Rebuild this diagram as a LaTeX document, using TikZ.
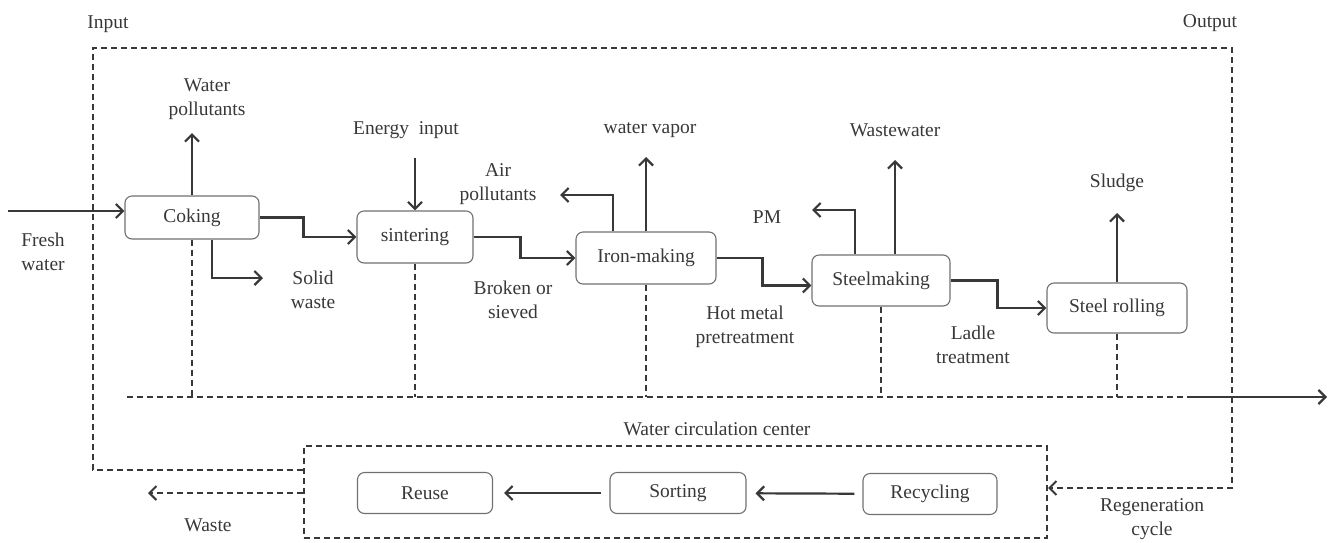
\documentclass[tikz,border=0pt]{standalone}
\usepackage{fontspec}
\setmainfont{Liberation Serif}
\usetikzlibrary{arrows.meta}
\definecolor{ink}{HTML}{383838}
\definecolor{boxline}{HTML}{707070}
\begin{document}
\begin{tikzpicture}[
  x=1pt, y=-1pt,
  font=\fontsize{19.5}{24}\selectfont,
  text=ink,
  >={Straight Barb[length=7pt,width=14pt]},
  proc/.style={draw=boxline, line width=1.1pt, rounded corners=7pt, inner sep=0pt},
  flow/.style={draw=ink, line width=2.2pt},
  dashline/.style={draw=ink, line width=2pt, dash pattern=on 6pt off 4pt},
  lbl/.style={align=center, inner sep=0pt}
]
\useasboundingbox (0,0) rectangle (1332,542);
% process chain
\node[proc, minimum width=134pt, minimum height=43pt] (coking) at (192,217.5) {Coking};
\node[proc, minimum width=116pt, minimum height=52pt] (sinter) at (415,237) {sintering};
\node[proc, minimum width=140pt, minimum height=52pt] (iron) at (646,258) {Iron-making};
\node[proc, minimum width=138pt, minimum height=51pt] (steel) at (881,280.5) {Steelmaking};
\node[proc, minimum width=140pt, minimum height=50pt] (rolling) at (1117,308) {Steel rolling};
% water circulation center
\node[dashline, minimum width=743pt, minimum height=92pt, inner sep=0pt] (centre) at (675.5,492) {};
\node[proc, minimum width=135pt, minimum height=41pt] (reuse) at (425,493) {Reuse};
\node[proc, minimum width=136pt, minimum height=41pt] (sorting) at (678,493) {Sorting};
\node[proc, minimum width=134pt, minimum height=41pt] (recycling) at (930,494) {Recycling};
% labels
\node[lbl] (input) at (108,24) {Input};
\node[lbl] (output) at (1210,23) {Output};
\node[lbl] (fresh) at (43,252) {Fresh\\water};
\node[lbl] (waterpol) at (207,99) {Water\\pollutants};
\node[lbl] (solid) at (313,290) {Solid\\waste};
\node[lbl] (energy) at (406,130) {Energy\ \ input};
\node[lbl] (air) at (498,184) {Air\\pollutants};
\node[lbl] (vapor) at (650,130) {water vapor};
\node[lbl] (broken) at (513,300) {Broken or\\sieved};
\node[lbl] (hotmetal) at (745,327) {Hot metal\\pretreatment};
\node[lbl] (pm) at (767,217) {PM};
\node[lbl] (wastewater) at (895,130) {Wastewater};
\node[lbl] (ladle) at (973,345) {Ladle\\treatment};
\node[lbl] (sludge) at (1117,183) {Sludge};
\node[lbl] (circ) at (717,429) {Water circulation center};
\node[lbl] (waste) at (208,525) {Waste};
\node[lbl] (regen) at (1152,519) {Regeneration\\cycle};
% free ends
\coordinate (fw) at (8,211);
\coordinate (wpEnd) at (192,133);
\coordinate (swEnd) at (263,278);
\coordinate (enStart) at (415,158);
\coordinate (apEnd) at (560,195);
\coordinate (wvEnd) at (646,157);
\coordinate (pmEnd) at (812,210);
\coordinate (wwEnd) at (895,160);
\coordinate (slEnd) at (1117,213);
\coordinate (busL) at (127,397);
\coordinate (busR) at (1193,397);
\coordinate (busEnd) at (1327,397);
\coordinate (inTL) at (93,48);
\coordinate (outBR) at (1232,488);
\coordinate (wasteEnd) at (148,493);
% main flow
\draw[flow,->] (fw) -- (fw -| coking.west);
\draw[flow,->] (coking.north) -- (wpEnd);
\draw[flow,->] ([xshift=20pt]coking.south) |- (swEnd);
\draw[flow,->] (coking.east) -- ++(44,0) |- (sinter.west);
\draw[flow,->] (enStart) -- (sinter.north);
\draw[flow,->] (sinter.east) -- ++(47,0) |- (iron.west);
\draw[flow,->] ([xshift=-33pt]iron.north) |- (apEnd);
\draw[flow,->] (iron.north) -- (wvEnd);
\draw[flow,->] (iron.east) -- ++(46,0) |- ([yshift=-5pt]steel.west);
\draw[flow,->] ([xshift=-26pt]steel.north) |- (pmEnd);
\draw[flow,->] ([xshift=14pt]steel.north) -- (wwEnd);
\draw[flow,->] (steel.east) -- ++(47,0) |- (rolling.west);
\draw[flow,->] (rolling.north) -- (slEnd);
% water lines
\foreach \n in {coking,sinter,iron,steel,rolling}
  \draw[dashline] (\n.south) -- (\n.south |- busL);
\draw[dashline] (busL) -- (busR);
\draw[flow,->] (busR) -- (busEnd);
\draw[dashline,->] (centre.west |- 0,470) -| (inTL) -| (outBR) -- (outBR -| centre.east);
\draw[dashline,->] (centre.west |- wasteEnd) -- (wasteEnd);
\draw[flow,->,shorten <=8pt,shorten >=9pt] (recycling) -- (sorting);
\draw[flow,->,shorten <=8pt,shorten >=11pt] (sorting) -- (reuse);
\end{tikzpicture}
\end{document}
